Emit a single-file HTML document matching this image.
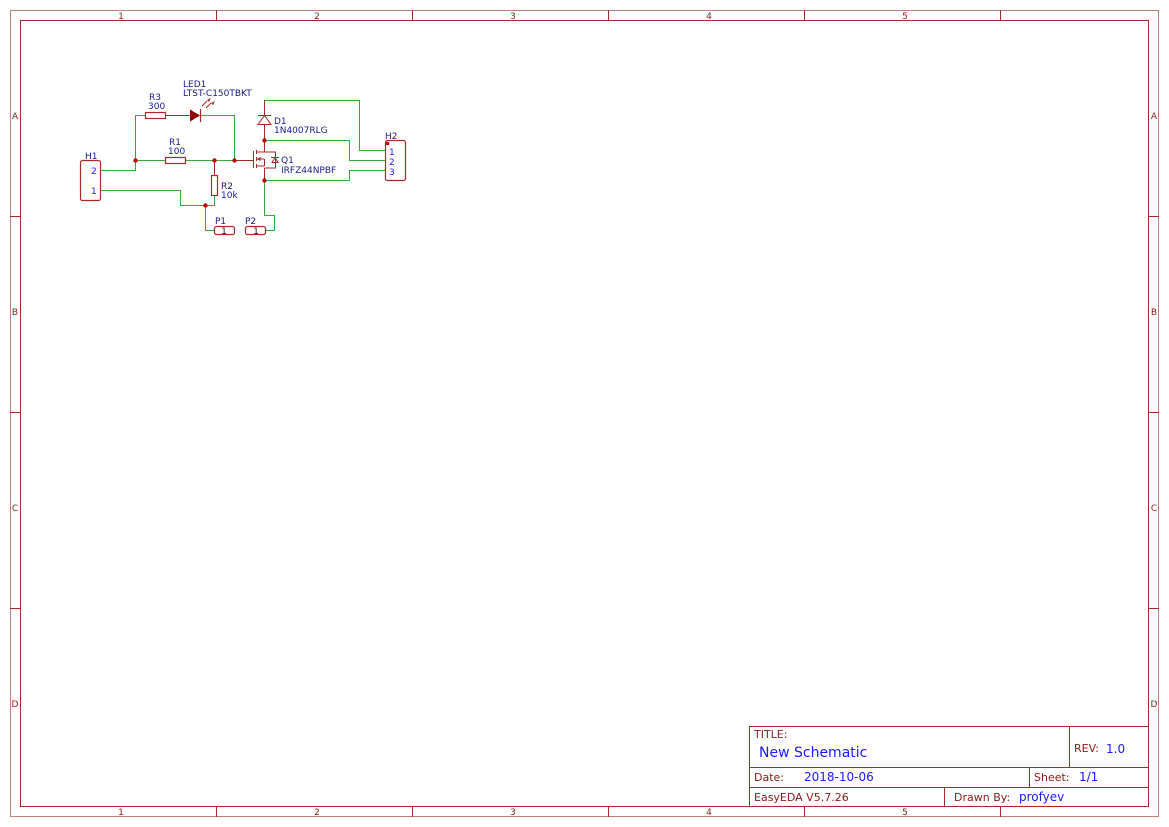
<!DOCTYPE html>
<html><head><meta charset="utf-8"><style>
html,body{margin:0;padding:0;background:#fff;}
svg{display:block;}
text{font-family:"DejaVu Sans","Liberation Sans",sans-serif;}
.sch{font-family:"Liberation Sans",sans-serif;}
</style></head><body>
<svg width="1169" height="827" viewBox="0 0 1169 827" xmlns="http://www.w3.org/2000/svg">
<g fill="none" stroke="#c08080" stroke-width="1">
<rect x="10.5" y="10.5" width="1148" height="806"/>
</g>
<g fill="none" stroke="#a52a2a" stroke-width="1">
<rect x="20.5" y="20.5" width="1128" height="786"/>
<path d="M216.5 10v10M412.5 10v10M608.5 10v10M804.5 10v10M1000.5 10v10"/>
<path d="M216.5 807v10M412.5 807v10M608.5 807v10M804.5 807v10M1000.5 807v10"/>
<path d="M10 216.5h10M10 412.5h10M10 608.5h10M1149 216.5h10M1149 412.5h10M1149 608.5h10"/>
</g>
<g fill="#8b1a1a" font-size="9" text-anchor="middle">
<text x="121" y="19">1</text><text x="317" y="19">2</text><text x="513" y="19">3</text><text x="709" y="19">4</text><text x="905" y="19">5</text>
<text x="121" y="815">1</text><text x="317" y="815">2</text><text x="513" y="815">3</text><text x="709" y="815">4</text><text x="905" y="815">5</text>
<text x="15" y="119">A</text><text x="15" y="315">B</text><text x="15" y="511">C</text><text x="15" y="707">D</text>
<text x="1154" y="119">A</text><text x="1154" y="315">B</text><text x="1154" y="511">C</text><text x="1154" y="707">D</text>
</g>
<g fill="none" stroke="#a52a2a" stroke-width="1">
<rect x="749.5" y="726.5" width="399" height="80"/>
<path d="M749 767.5h400M749 787.5h400M1069.5 726v41M1029.5 767v20M944.5 787v20"/>
</g>
<g font-size="11" fill="#8b1a1a">
<text x="754" y="738">TITLE:</text>
<text x="1074" y="752">REV:</text>
<text x="754" y="781">Date:</text>
<text x="1034" y="781">Sheet:</text>
<text x="754" y="801">EasyEDA V5.7.26</text>
<text x="954" y="801">Drawn By:</text>
</g>
<g fill="#1a1aff">
<text x="759" y="757" font-size="14">New Schematic</text>
<text x="1106" y="753" font-size="12">1.0</text>
<text x="804" y="781" font-size="12">2018-10-06</text>
<text x="1079" y="781" font-size="12">1/1</text>
<text x="1019" y="801" font-size="12">profyev</text>
</g>
<g fill="none" stroke="#3aaa3a" stroke-width="1">
<path d="M100 170.5H135.5V115.5H145"/>
<path d="M200 115.5H234.5V160"/>
<path d="M135 160.5H165M185 160.5H252"/>
<path d="M100 190.5H180.5V205.5H214.5V195"/>
<path d="M205.5 205V230.5H215"/>
<path d="M265 230.5H274.5V215.5H264.5V180"/>
<path d="M264.5 100V100.5H359.5V150.5H385"/>
<path d="M265 140.5H349.5V160.5H385"/>
<path d="M265 180.5H349.5V170.5H385"/>
</g>
<g fill="none" stroke="#a52a2a" stroke-width="1">
<path d="M165 115.5H190"/>
<path d="M214.5 160V175"/>
<path d="M264.5 100V152M264.5 168V180"/>
<path d="M234 160.5H253"/>
</g>
<g fill="none" stroke="#a52a2a" stroke-width="1.2">
<rect x="80.5" y="160.5" width="20" height="40" rx="2"/>
<rect x="385.5" y="140.5" width="20" height="40" rx="2"/>
<rect x="145.5" y="112.5" width="20" height="6"/>
<rect x="165.5" y="157.5" width="20" height="6"/>
<rect x="211.5" y="175.5" width="6" height="20"/>
<rect x="214.5" y="226.5" width="20" height="8" rx="2"/>
<rect x="245.5" y="226.5" width="20" height="8" rx="2"/>
<path d="M200.5 109V122"/>
<path d="M202 106l5-5M206 108l5-5" stroke-width="1"/>
<path d="M258 115.5H271M258 124.5H271L264.5 115.5Z" stroke-width="1" fill="#fff"/>
<path d="M253.5 151v17M256.5 150v4M256.5 157v4M256.5 164v4M256.5 152H264.5M256.5 166H264.5M256.5 159H264M264.5 159V166M264.5 152H275.5V168H264.5" stroke-width="1"/>
<path d="M271 157.5h8M272 162.5h6l-3 -5z" stroke-width="1"/>
</g>
<path d="M207 100l4-2-2 4zM211 103l4-2-2 4z" fill="#a52a2a"/>
<path d="M190 109.5L200 115.5L190 121.5Z" fill="#8b0000"/>
<path d="M256.5 159l4-2v4z" fill="#a52a2a"/>
<g fill="#c00000">
<circle cx="135.5" cy="160.5" r="2.2"/><circle cx="214.5" cy="160.5" r="2.2"/><circle cx="234.5" cy="160.5" r="2.2"/>
<circle cx="205.5" cy="205.5" r="2.2"/><circle cx="264.5" cy="140.5" r="2.2"/><circle cx="264.5" cy="180.5" r="2.2"/>
<circle cx="387.5" cy="143.5" r="1.8"/>
</g>
<g class="sch" fill="#1a1a8b" font-size="9">
<text x="85" y="159">H1</text>
<text x="385" y="139">H2</text>
<text x="149" y="100">R3</text><text x="148" y="109">300</text>
<text x="183" y="87">LED1</text><text x="183" y="96">LTST-C150TBKT</text>
<text x="169" y="145">R1</text><text x="168" y="154">100</text>
<text x="221" y="189">R2</text><text x="221" y="198">10k</text>
<text x="274" y="124">D1</text><text x="274" y="133">1N4007RLG</text>
<text x="281" y="163">Q1</text><text x="281" y="173">IRFZ44NPBF</text>
<text x="215" y="224">P1</text><text x="245" y="224">P2</text>
</g>
<g class="sch" fill="#1a1aff" font-size="9">
<text x="91" y="174">2</text><text x="91" y="194">1</text>
<text x="389" y="155">1</text><text x="389" y="165">2</text><text x="389" y="175">3</text>
</g>
<g class="sch" fill="#1a1a1a" font-size="9" text-anchor="middle">
<text x="224" y="234">1</text><text x="256" y="234">1</text>
</g>
</svg>
</body></html>
